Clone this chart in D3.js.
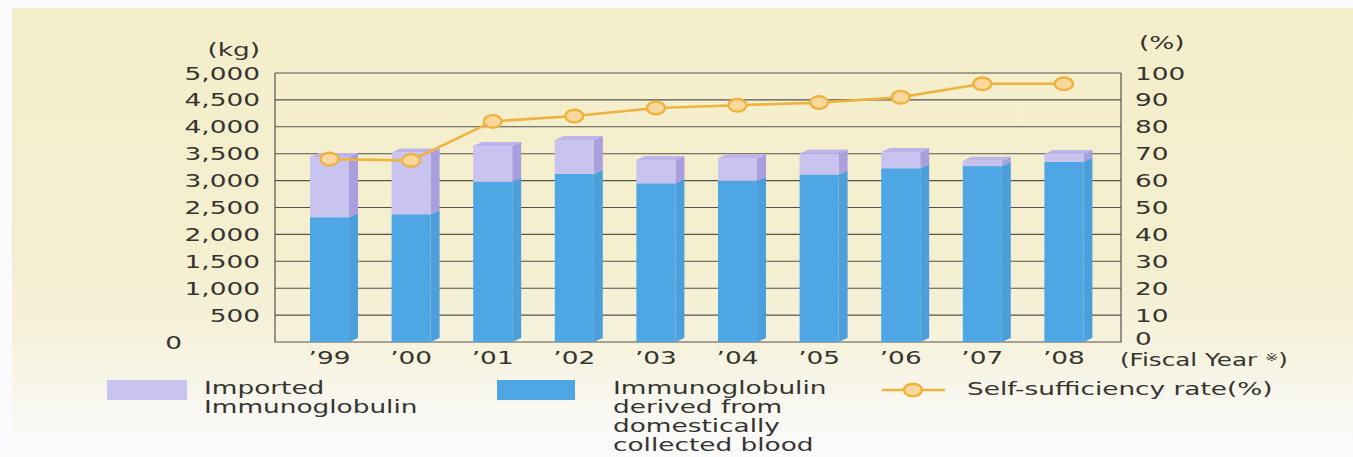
<!DOCTYPE html>
<html><head><meta charset="utf-8">
<script src="https://cdn.jsdelivr.net/npm/d3@7"></script>
<style>html,body{margin:0;padding:0;background:#fff;}svg{display:block;}</style>
</head><body>
<svg id="c" width="1353" height="457"></svg>
<script>
// ---- data ----
const years = ["’99","’00","’01","’02","’03","’04","’05","’06","’07","’08"];
const domestic = [2320, 2375, 2980, 3125, 2950, 2995, 3115, 3230, 3270, 3350];
const imported = [1120, 1145, 665, 630, 435, 420, 390, 300, 100, 145];
const rate = [68, 67.5, 82, 84, 87, 88, 89, 91, 96, 96];
const leftTicks = [500, 1000, 1500, 2000, 2500, 3000, 3500, 4000, 4500, 5000];
const rightTicks = [0, 10, 20, 30, 40, 50, 60, 70, 80, 90, 100];

const svg = d3.select("#c");
const FONT = "DejaVu Sans";
const TXT = "#35342f";
const SX = 1.55;

// background
const defs = svg.append("defs");
const g0 = defs.append("linearGradient").attr("id","bg").attr("x1",0).attr("y1",0).attr("x2",0).attr("y2",1);
[[0,"#f4eecb"],[0.55,"#f4efcf"],[0.78,"#f6f3e0"],[0.9,"#f9f8f2"],[1,"#fbfbfd"]].forEach(s=>g0.append("stop").attr("offset",s[0]).attr("stop-color",s[1]));
svg.append("rect").attr("width",1353).attr("height",457).attr("fill","#fbfbfd");
svg.append("rect").attr("x",12).attr("y",8).attr("width",1341).attr("height",449).attr("fill","url(#bg)");

const L = 275, R = 1121, T = 73, B = 342;
const x = d3.scaleBand().domain(years).range([288.7, 1104.7]).paddingInner(0.522).paddingOuter(0.261);
const y = d3.scaleLinear().domain([0, 5000]).range([B, T]);
const y2 = d3.scaleLinear().domain([0, 100]).range([B, T]);

function stext(parent, tx, ty, str, anchor, sx, size) {
  return parent.append("text")
    .attr("transform", `translate(${tx},${ty}) scale(${sx||SX},1)`)
    .attr("text-anchor", anchor || "start")
    .attr("font-family", FONT).attr("font-size", size || 17)
    .attr("fill", TXT).text(str);
}

// gridlines
svg.append("g").selectAll("line").data(leftTicks).join("line")
  .attr("x1", L).attr("x2", R).attr("y1", d=>y(d)).attr("y2", d=>y(d))
  .attr("stroke", "#55534c").attr("stroke-width", 1.1);
// frame
svg.append("path").attr("d", `M${L},${T}V${B}H${R}V${T}`).attr("fill","none").attr("stroke","#55534c").attr("stroke-width",1.2);

// bars (3D)
const bw = x.bandwidth(), dx = 9, dy = 4;
const bars = svg.append("g");
years.forEach((yr, i) => {
  const x0 = x(yr), x1 = x0 + bw;
  const yd = y(domestic[i]), yt = y(domestic[i] + imported[i]);
  bars.append("path").attr("d", `M${x1},${B}L${x1+dx},${B-dy}V${yd-dy}L${x1},${yd}Z`).attr("fill", "#4d9fdc");
  bars.append("path").attr("d", `M${x1},${yd}L${x1+dx},${yd-dy}V${yt-dy}L${x1},${yt}Z`).attr("fill", "#a99fdf");
  bars.append("rect").attr("x", x0).attr("y", yd).attr("width", bw).attr("height", B - yd).attr("fill", "#4fa6e4");
  bars.append("rect").attr("x", x0).attr("y", yt).attr("width", bw).attr("height", yd - yt).attr("fill", "#c9c3f0");
  bars.append("path").attr("d", `M${x0},${yt}L${x0+dx},${yt-dy}H${x1+dx}L${x1},${yt}Z`).attr("fill", "#bdb5ea");
});

// line
const cx = d => x(d) + bw / 2;
const line = d3.line().x((d,i)=>cx(years[i])).y(d=>y2(d));
svg.append("path").datum(rate).attr("d", line).attr("fill","none").attr("stroke","#efb23c").attr("stroke-width",2.6);
svg.append("g").selectAll("ellipse").data(rate).join("ellipse")
  .attr("cx", (d,i)=>cx(years[i])).attr("cy", d=>y2(d)).attr("rx", 9).attr("ry", 6.3)
  .attr("fill", "#fad79c").attr("stroke", "#efb23c").attr("stroke-width", 2.4);

// left axis labels
const la = svg.append("g");
leftTicks.forEach(t => stext(la, 260, y(t) + 6.5, d3.format(",")(t), "end"));
stext(la, 182, B + 7, "0", "end");
stext(la, 260, 56, "(kg)", "end");

// right axis labels
const ra = svg.append("g");
rightTicks.forEach(t => stext(ra, 1135, y2(t) + (t === 0 ? 3 : 6.5), String(t), "start"));
stext(ra, 1139, 49, "(%)", "start");

// x labels
const xa = svg.append("g");
years.forEach(yr => stext(xa, cx(yr), 364, yr, "middle"));
const fy = stext(xa, 1120, 366, "(Fiscal Year ", "start", 1.45);
fy.append("tspan").attr("font-size", 11).attr("dy", -5).text("※");
fy.append("tspan").attr("dy", 5).text(")");

// legend
const lg = svg.append("g");
lg.append("rect").attr("x",107).attr("y",380).attr("width",80).attr("height",20).attr("fill","#c9c3f0");
stext(lg, 204, 394, "Imported", "start");
stext(lg, 204, 413, "Immunoglobulin", "start");
lg.append("rect").attr("x",497).attr("y",380).attr("width",78).attr("height",20).attr("fill","#4fa6e4");
["Immunoglobulin","derived from","domestically","collected blood"].forEach((s,i)=>stext(lg, 613, 394 + i*19, s, "start"));
lg.append("line").attr("x1",882).attr("x2",945).attr("y1",390).attr("y2",390).attr("stroke","#efb23c").attr("stroke-width",2.6);
lg.append("ellipse").attr("cx",913).attr("cy",390).attr("rx",9).attr("ry",6.3).attr("fill","#fad79c").attr("stroke","#efb23c").attr("stroke-width",2.4);
stext(lg, 967, 395, "Self-sufficiency rate(%)", "start");
</script>
</body></html>
